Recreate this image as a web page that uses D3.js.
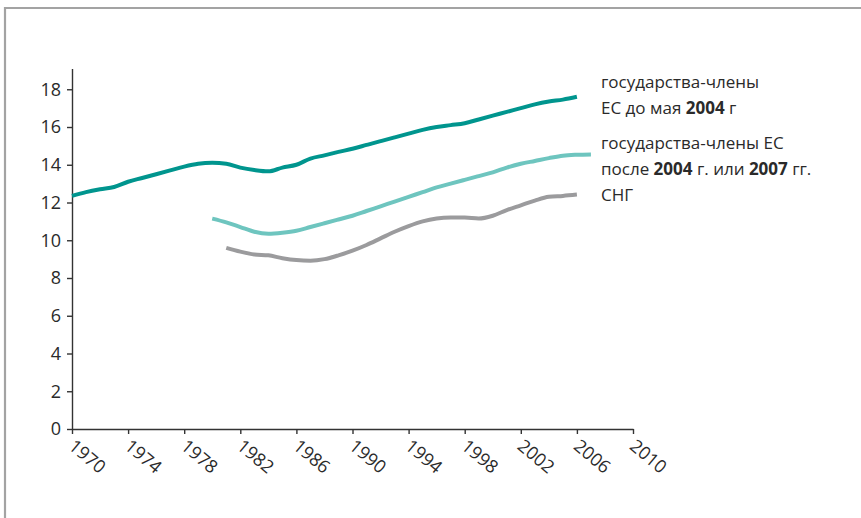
<!DOCTYPE html>
<html><head><meta charset="utf-8">
<script src="https://cdn.jsdelivr.net/npm/d3@7"></script>
<style>
body{margin:0;background:#fff;}
svg{display:block;font-family:"Open Sans",sans-serif;}
</style></head>
<body><svg id="c" width="861" height="518"></svg>
<script>
const xTicks = [1970,1974,1978,1982,1986,1990,1994,1998,2002,2006,2010];
const yTicks = [0,2,4,6,8,10,12,14,16,18];

const eu15Years = d3.range(1970, 2007);
const eu15Values = [12.35,12.55,12.7,12.82,13.1,13.3,13.5,13.7,13.9,14.05,14.1,14.05,13.85,13.72,13.65,13.85,14.0,14.33,14.5,14.68,14.85,15.05,15.25,15.45,15.65,15.85,16.0,16.1,16.2,16.4,16.6,16.8,17.0,17.2,17.35,17.45,17.6];

const nmsYears = d3.range(1980, 2008);
const nmsValues = [11.15,10.95,10.7,10.45,10.35,10.4,10.5,10.7,10.9,11.1,11.3,11.55,11.8,12.05,12.3,12.55,12.8,13.0,13.2,13.4,13.6,13.85,14.05,14.2,14.35,14.48,14.53,14.55];

const cisYears = d3.range(1981, 2007);
const cisValues = [9.6,9.4,9.25,9.2,9.05,8.95,8.92,9.0,9.2,9.45,9.75,10.1,10.45,10.75,11.0,11.15,11.2,11.2,11.15,11.3,11.6,11.85,12.1,12.3,12.35,12.42];

const seriesColors = ["#00958e","#6ec5bf","#9b9b9d"];

const svg = d3.select("#c");
svg.append("path").attr("d","M5,530 L5,8 L870,8").attr("fill","none").attr("stroke","#a3a3a3").attr("stroke-width",2.2);

const x = d3.scaleLinear().domain([1970,2010]).range([72,633]);
const y = d3.scaleLinear().domain([0,19.1]).range([429,68.5]);

const ya = svg.append("g").attr("transform","translate(72,0)")
  .call(d3.axisLeft(y).tickValues(yTicks).tickSize(5).tickSizeOuter(0).tickPadding(6));
ya.select(".domain").attr("stroke","#333").attr("stroke-width",1.4);
ya.selectAll(".tick line").attr("stroke","#333").attr("stroke-width",1.4);
ya.selectAll(".tick text").attr("fill","#2a2a2a").attr("font-size",18).attr("font-family","Open Sans");

const xa = svg.append("g").attr("transform","translate(0,429)")
  .call(d3.axisBottom(x).tickValues(xTicks).tickSize(5).tickSizeOuter(0).tickFormat(d3.format("d")));
xa.select(".domain").attr("stroke","#333").attr("stroke-width",1.4);
xa.selectAll(".tick line").attr("stroke","#333").attr("stroke-width",1.4);
xa.selectAll(".tick text").attr("fill","#2a2a2a").attr("font-size",18).attr("font-family","Open Sans")
  .attr("text-anchor","start").attr("dy",null).attr("y",0)
  .attr("transform","translate(-5,19) rotate(40)");

const line = d3.line().x(d=>x(d[0])).y(d=>y(d[1])).curve(d3.curveMonotoneX);
const data = [d3.zip(eu15Years,eu15Values), d3.zip(nmsYears,nmsValues), d3.zip(cisYears,cisValues)];
data.forEach((s,i)=>{
  svg.append("path").datum(s).attr("d",line).attr("fill","none")
    .attr("stroke",seriesColors[i]).attr("stroke-width",4).attr("stroke-linecap","butt");
});

const legend = [
  {y:88, parts:[["государства-члены",400]]},
  {y:114, parts:[["ЕС до мая ",400],["2004",700],[" г",400]]},
  {y:149, parts:[["государства-члены ЕС",400]]},
  {y:175, parts:[["после ",400],["2004",700],[" г. или ",400],["2007",700],[" гг.",400]]},
  {y:201, parts:[["СНГ",400]]}
];
legend.forEach(l=>{
  const t = svg.append("text").attr("x",601).attr("y",l.y).attr("font-size",17).attr("fill","#2a2a2a").attr("font-family","Open Sans");
  l.parts.forEach(p=>t.append("tspan").attr("font-weight",p[1]).text(p[0]));
});
</script></body></html>
